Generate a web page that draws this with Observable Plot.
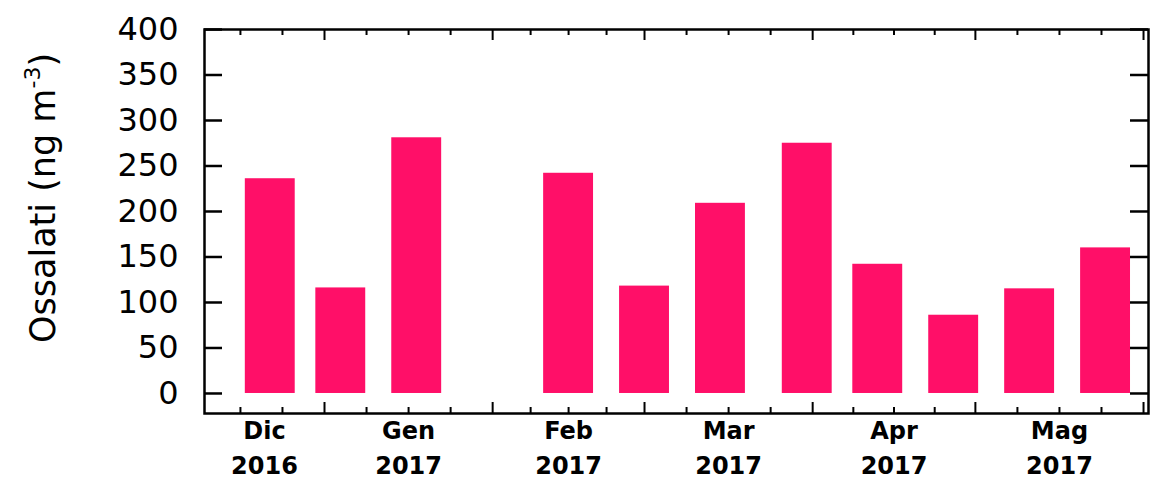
<!DOCTYPE html>
<html>
<head>
<meta charset="utf-8">
<script src="https://cdn.jsdelivr.net/npm/d3@7"></script>
<script src="https://cdn.jsdelivr.net/npm/@observablehq/plot@0.6"></script>
<style>
  body { margin: 0; background: #fff; }
  svg { display: block; }
</style>
</head>
<body>
<div id="chart"></div>
<script>
// Oxalate concentrations, one value per sampling day (centre of each bar)
const sampleDates = ["2016-12-22", "2017-01-04", "2017-01-18", "2017-02-15", "2017-03-01",
                     "2017-03-15", "2017-03-31", "2017-04-13", "2017-04-27", "2017-05-11", "2017-05-25"];
const oxalates = [236, 116, 281, 242, 118, 209, 275, 142, 86, 115, 160];

// Axis ticks and month labels
const yTicks = [0, 50, 100, 150, 200, 250, 300, 350, 400];
const monthStarts = ["2016-12-01", "2017-01-01", "2017-02-01", "2017-03-01", "2017-04-01", "2017-05-01", "2017-06-01"];
const monthNames = ["Dic", "Gen", "Feb", "Mar", "Apr", "Mag"];
const monthYears = ["2016", "2017", "2017", "2017", "2017", "2017"];

const DAY = 864e5;
const W = 1163, H = 484;
const margin = {top: 29, right: 15, bottom: 71, left: 204};
const xDomain = [new Date(Date.UTC(2016, 11, 9, 21)), new Date(Date.UTC(2017, 5, 1, 22))];
const yDomain = [-22, 400];
const barDays = 9.2;

const pxPerDay = (W - margin.left - margin.right) / ((xDomain[1] - xDomain[0]) / DAY);
const pxPerUnit = (H - margin.top - margin.bottom) / (yDomain[1] - yDomain[0]);
const shiftDays = (d, n) => new Date(+d + n * DAY);

const bars = sampleDates.map((s, i) => {
  const c = new Date(s + "T00:00:00Z");
  return {x1: shiftDays(c, -barDays / 2), x2: shiftDays(c, barDays / 2), value: oxalates[i]};
});

// Month boundaries (major ticks) and quarter-month minor ticks
const starts = monthStarts.map(s => new Date(s + "T00:00:00Z"));
const inside = d => d >= xDomain[0] && d <= xDomain[1];
const majorTicks = starts.filter(inside);
const minorTicks = [];
for (let i = 0; i < starts.length - 1; i++) {
  const a = +starts[i], b = +starts[i + 1];
  for (let k = 1; k < 4; k++) minorTicks.push(new Date(a + (b - a) * k / 4));
}
const minorIn = minorTicks.filter(inside);

// Labels sit in the middle of the visible part of each month
const monthLabels = monthNames.map((m, i) => {
  const a = Math.max(+starts[i], +xDomain[0]);
  const b = Math.min(+starts[i + 1], +xDomain[1]);
  return {x: new Date((a + b) / 2), text: m + "\n" + monthYears[i]};
});

const majLen = 11 / pxPerUnit, minLen = 6 / pxPerUnit;
const yTickDays = 18 / pxPerDay;

const chart = Plot.plot({
  width: W,
  height: H,
  marginTop: margin.top,
  marginRight: margin.right,
  marginBottom: margin.bottom,
  marginLeft: margin.left,
  style: {fontFamily: "DejaVu Sans, sans-serif", fontSize: "32px", background: "#fff", color: "#000"},
  x: {type: "utc", domain: xDomain, axis: null},
  y: {domain: yDomain, ticks: yTicks, tickSize: 0, tickPadding: 26, label: null},
  marks: [
    Plot.rectY(bars, {x1: "x1", x2: "x2", y1: 0, y2: "value", fill: "#ff0f68"}),
    // bottom and top ticks (pointing inward)
    Plot.ruleX(majorTicks, {x: d => d, y1: yDomain[0], y2: yDomain[0] + majLen, stroke: "#000", strokeWidth: 2}),
    Plot.ruleX(minorIn, {x: d => d, y1: yDomain[0], y2: yDomain[0] + minLen, stroke: "#000", strokeWidth: 2}),
    Plot.ruleX(majorTicks, {x: d => d, y1: yDomain[1], y2: yDomain[1] - majLen, stroke: "#000", strokeWidth: 2}),
    Plot.ruleX(minorIn, {x: d => d, y1: yDomain[1], y2: yDomain[1] - minLen, stroke: "#000", strokeWidth: 2}),
    // left and right ticks (pointing inward)
    Plot.ruleY(yTicks, {y: d => d, x1: xDomain[0], x2: shiftDays(xDomain[0], yTickDays), stroke: "#000", strokeWidth: 2.5}),
    Plot.ruleY(yTicks, {y: d => d, x1: shiftDays(xDomain[1], -yTickDays), x2: xDomain[1], stroke: "#000", strokeWidth: 2.5}),
    Plot.frame({stroke: "#000", strokeWidth: 2.5}),
    // month / year labels below the axis
    Plot.text(monthLabels, {
      x: "x", y: () => yDomain[0], text: "text",
      lineAnchor: "top", dy: 1, lineHeight: 1.45,
      fontSize: 24, fontWeight: "bold", fill: "#000"
    })
  ]
});

document.getElementById("chart").append(chart);

// Y-axis title with superscript unit
const svg = d3.select(chart);
const title = svg.append("text")
  .attr("transform", "translate(55,198) rotate(-90)")
  .attr("text-anchor", "middle")
  .attr("font-family", "DejaVu Sans, sans-serif")
  .attr("font-size", 35)
  .attr("fill", "#000");
title.append("tspan").text("Ossalati (ng m");
title.append("tspan").attr("dy", -15).attr("font-size", 22).text("-3");
title.append("tspan").attr("dy", 15).text(")");
</script>
</body>
</html>
